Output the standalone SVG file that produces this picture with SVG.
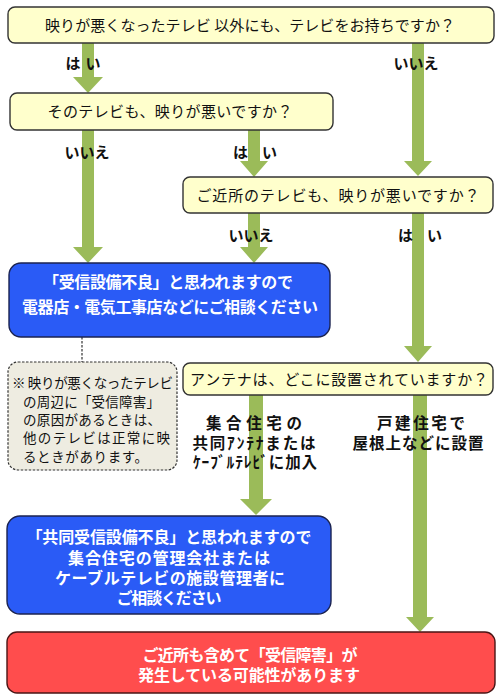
<svg xmlns="http://www.w3.org/2000/svg" width="498" height="699" viewBox="0 0 498 699">
<style>
.q{fill:#FFFFCC;stroke:#333;stroke-width:1.4}
.b{fill:#2A5BF6;stroke:#1B2350;stroke-width:1.4}
.r{fill:#FF4D4D;stroke:#4A1515;stroke-width:1.4}
.n{fill:#EEECE1;stroke:#333;stroke-width:1.2;stroke-dasharray:2.5 1.5}
.arr{fill:#9BBB59}
text{font-family:"Noto Sans CJK JP","Noto Sans",sans-serif}
.qt{font-size:15px;fill:#111;text-anchor:middle}
.wt{font-size:16px;fill:#fff;font-weight:bold;text-anchor:middle}
.lb{font-size:15px;fill:#111;font-weight:bold;text-anchor:middle}
.lb2{font-size:15.5px;fill:#111;font-weight:bold;text-anchor:middle}
.nt{font-size:13.5px;fill:#111}
</style>
<g id="connectors">
<path class="arr" d="M82,43 H94 V77 H103 L88,93 L73,77 H82 Z"/>
<path class="arr" d="M412,43 H424 V161 H432 L418,176 L404,161 H412 Z"/>
<path class="arr" d="M82,130 H94 V247 H103 L88,263 L73,247 H82 Z"/>
<path class="arr" d="M248,130 H260 V161 H268 L254,177 L240,161 H248 Z"/>
<path class="arr" d="M248,213 H260 V247 H268 L254,263 L240,247 H248 Z"/>
<path class="arr" d="M412,213 H424 V346 H432 L418,362 L404,346 H412 Z"/>
<path class="arr" d="M249,395 H263 V499 H272 L256,515 L240,499 H249 Z"/>
<path class="arr" d="M413,395 H427 V617 H434 L420,632 L406,617 H413 Z"/>
<line x1="82" y1="337" x2="82" y2="362" stroke="#333" stroke-width="1.2" stroke-dasharray="2.5 1.5"/>
</g>
<g id="labels">
<text class="lb" x="83" y="69" textLength="35">は い</text>
<text class="lb" x="416" y="69">いいえ</text>
<text class="lb" x="87" y="158">いいえ</text>
<text class="lb" x="255" y="158" textLength="44">は い</text>
<text class="lb" x="251" y="241">いいえ</text>
<text class="lb" x="420" y="241" textLength="44">は い</text>
<text class="lb2" x="254" y="429" textLength="96">集合住宅の</text>
<text class="lb2" x="254" y="449" textLength="123">共同ｱﾝﾃﾅまたは</text>
<text class="lb2" x="255" y="468" textLength="124">ｹｰﾌﾞﾙﾃﾚﾋﾞに加入</text>
<text class="lb2" x="421" y="429" textLength="88">戸建住宅で</text>
<text class="lb2" x="418" y="449" textLength="131">屋根上などに設置</text>
</g>
<g id="q1">
<rect class="q" x="8" y="7" width="486" height="36" rx="7"/>
<text class="qt" x="250" y="31" textLength="410">映りが悪くなったテレビ 以外にも、テレビをお持ちですか？</text>
</g>
<g id="q2">
<rect class="q" x="10" y="93" width="323" height="37" rx="7"/>
<text class="qt" x="170" y="117" textLength="245">そのテレビも、映りが悪いですか？</text>
</g>
<g id="q3">
<rect class="q" x="183" y="177" width="310" height="36" rx="7"/>
<text class="qt" x="338" y="201" textLength="283">ご近所のテレビも、映りが悪いですか？</text>
</g>
<g id="a1">
<rect class="b" x="9" y="263" width="321" height="74" rx="12"/>
<text class="wt" x="168" y="288" textLength="250">「受信設備不良」と思われますので</text>
<text class="wt" x="170" y="313" textLength="296">電器店・電気工事店などにご相談ください</text>
</g>
<g id="note">
<rect class="n" x="8" y="362" width="169" height="108" rx="10"/>
<text class="nt" x="12" y="388" textLength="161">※ 映りが悪くなったテレビ</text>
<text class="nt" x="23" y="407" textLength="137">の周辺に「受信障害」</text>
<text class="nt" x="23" y="425" textLength="138">の原因があるときは、</text>
<text class="nt" x="23" y="443" textLength="147">他のテレビは正常に映</text>
<text class="nt" x="23" y="462" textLength="125">るときがあります。</text>
</g>
<g id="q4">
<rect class="q" x="183" y="363" width="310" height="32" rx="7"/>
<text class="qt" x="339" y="385" textLength="298">アンテナは、どこに設置されていますか？</text>
</g>
<g id="a2">
<rect class="b" x="7" y="516" width="324" height="98" rx="13"/>
<text class="wt" x="169" y="543" textLength="285">「共同受信設備不良」と思われますので</text>
<text class="wt" x="169" y="564" textLength="202">集合住宅の管理会社または</text>
<text class="wt" x="170" y="584" textLength="230">ケーブルテレビの施設管理者に</text>
<text class="wt" x="169" y="604" textLength="105">ご相談ください</text>
</g>
<g id="a3">
<rect class="r" x="7" y="632" width="488" height="61" rx="10"/>
<text class="wt" x="250" y="661" textLength="215">ご近所も含めて「受信障害」が</text>
<text class="wt" x="249" y="681" textLength="222">発生している可能性があります</text>
</g>
</svg>
